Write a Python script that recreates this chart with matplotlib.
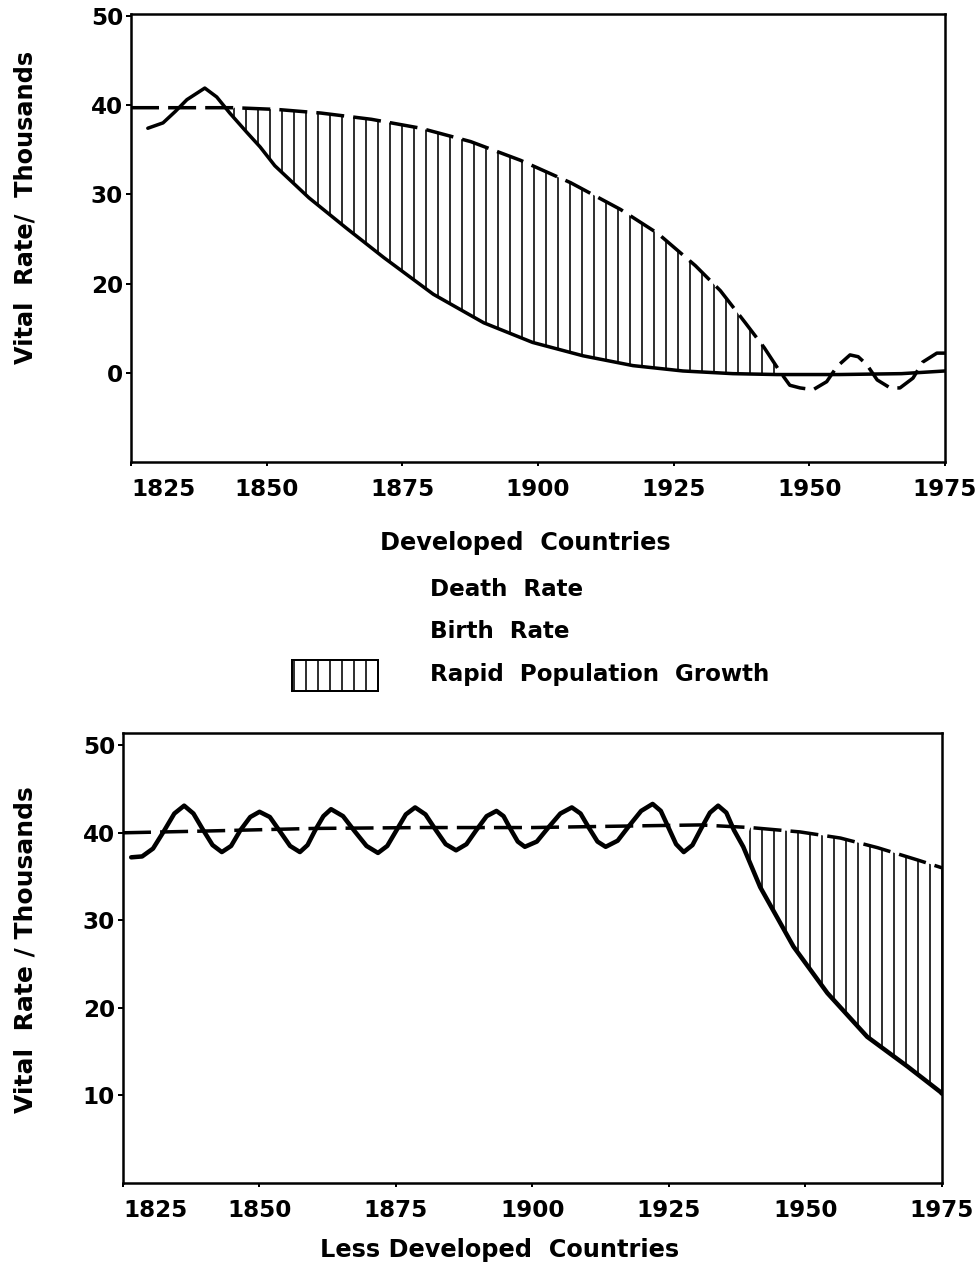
import numpy as np
import matplotlib.pyplot as plt
from matplotlib.patches import Rectangle

plt.rcParams["font.family"] = ["DejaVu Sans"]
plt.rcParams["font.weight"] = "bold"
plt.rcParams["hatch.linewidth"] = 1.6

# x axis (years)
years = [1825, 1850, 1875, 1900, 1925, 1950, 1975]
year_labels = ["1825", "1850", "1875", "1900", "1925", "1950", "1975"]

# Developed countries - death rate (solid)
dev_death_x = [1828.1, 1830.9, 1833.2, 1835.3, 1838.6, 1840.8, 1843.2, 1846.4,
               1848.8, 1851.5, 1857.8, 1864.7, 1871.6, 1880.7, 1890.0, 1899.0,
               1908.3, 1917.5, 1926.7, 1935.9, 1944.0, 1955.5, 1967.0, 1975.0]
dev_death_y = [37.4, 38.0, 39.3, 40.6, 41.9, 40.9, 39.1, 36.9,
               35.3, 33.2, 29.6, 26.2, 22.9, 18.8, 15.6, 13.4,
               11.9, 10.8, 10.2, 9.9, 9.8, 9.8, 9.9, 10.2]

# Developed countries - birth rate (dashed)
dev_birth_x = [1825.0, 1835.0, 1844.0, 1852.0, 1860.0, 1869.3, 1878.4, 1887.6,
               1896.8, 1906.0, 1915.2, 1922.1, 1929.0, 1933.6, 1938.2, 1941.7,
               1944.5, 1946.4, 1948.3, 1950.7, 1953.2, 1955.1, 1957.5, 1959.0,
               1960.6, 1962.5, 1964.9, 1966.7, 1969.1, 1970.9, 1973.5, 1975.0]
dev_birth_y = [39.7, 39.7, 39.7, 39.5, 39.1, 38.4, 37.4, 35.9,
               33.8, 31.3, 28.3, 25.6, 22.0, 19.2, 15.6, 12.8,
               10.2, 8.6, 8.3, 8.1, 9.0, 10.7, 12.0, 11.8,
               10.9, 9.2, 8.3, 8.3, 9.4, 11.2, 12.2, 12.2]
dev_growth_span = (1841, 1945)
dev_yticks = [10, 20, 30, 40, 50]
dev_ylabels = ["0", "20", "30", "40", "50"]

# Less developed countries - death rate (solid)
ldc_death_x = [1826.5, 1828.5, 1830.5, 1832.5, 1834.4, 1836.2, 1837.9, 1839.6,
               1841.4, 1843.1, 1844.8, 1846.5, 1848.3, 1850.0, 1851.9, 1853.7,
               1855.6, 1857.4, 1858.8, 1860.2, 1861.7, 1863.1, 1865.3, 1867.4,
               1869.6, 1871.7, 1873.4, 1875.1, 1876.8, 1878.5, 1880.4, 1882.2,
               1884.1, 1886.0, 1887.9, 1889.7, 1891.6, 1893.4, 1894.7, 1896.0,
               1897.3, 1898.6, 1900.8, 1902.9, 1905.1, 1907.2, 1908.8, 1910.3,
               1911.9, 1913.4, 1915.6, 1917.7, 1919.9, 1922.0, 1923.5, 1924.9,
               1926.3, 1927.7, 1929.3, 1930.9, 1932.5, 1934.0, 1935.5, 1936.9,
               1938.6, 1941.7, 1947.8, 1954.0, 1961.3, 1968.7, 1974.7, 1975.0]
ldc_death_y = [37.2, 37.3, 38.2, 40.2, 42.2, 43.1, 42.2, 40.4,
               38.6, 37.8, 38.5, 40.3, 41.8, 42.4, 41.8, 40.2,
               38.5, 37.8, 38.6, 40.3, 41.9, 42.7, 41.9, 40.2,
               38.5, 37.7, 38.5, 40.3, 42.1, 42.9, 42.1, 40.4,
               38.7, 38.0, 38.7, 40.3, 41.9, 42.5, 41.9, 40.4,
               39.0, 38.4, 39.0, 40.6, 42.2, 42.9, 42.2, 40.6,
               39.0, 38.4, 39.1, 40.8, 42.5, 43.3, 42.5, 40.6,
               38.7, 37.8, 38.6, 40.5, 42.3, 43.1, 42.3, 40.3,
               38.4, 33.8, 27.0, 21.7, 16.7, 13.3, 10.4, 10.2]

# Less developed countries - birth rate (dashed)
ldc_birth_x = [1825.0, 1840.0, 1860.0, 1880.0, 1900.0, 1920.0, 1930.7, 1939.9,
               1949.0, 1956.4, 1963.2, 1970.5, 1975.0]
ldc_birth_y = [40.0, 40.2, 40.5, 40.6, 40.6, 40.8, 40.9, 40.6,
               40.1, 39.4, 38.3, 36.9, 36.0]
ldc_growth_span = (1938.5, 1975.5)
ldc_yticks = [10, 20, 30, 40, 50]
ldc_ylabels = ["10", "20", "30", "40", "50"]

W, H = 979, 1268
fig = plt.figure(figsize=(W / 72, H / 72), dpi=72)


def px_box(left, top, right, bottom):
    return [left / W, 1 - bottom / H, (right - left) / W, (bottom - top) / H]


def growth_polygon(bx, by, dx, dy, span):
    bx, by, dx, dy = map(np.asarray, (bx, by, dx, dy))
    mb = (bx >= span[0]) & (bx <= span[1])
    md = (dx >= span[0]) & (dx <= span[1])
    xs = np.concatenate([bx[mb], dx[md][::-1]])
    ys = np.concatenate([by[mb], dy[md][::-1]])
    return xs, ys


def draw_panel(ax, dx, dy, bx, by, span, yticks, ylabels, ymax, death_lw):
    px, py = growth_polygon(bx, by, dx, dy, span)
    ax.fill(px, py, facecolor="none", edgecolor="black", hatch="|", linewidth=0)
    ax.plot(dx, dy, color="black", lw=death_lw, solid_capstyle="round",
            solid_joinstyle="round")
    ax.plot(bx, by, color="black", lw=3.5, linestyle=(0, (8, 2.6)))

    ax.set_xlim(1825, 1975)
    ax.set_ylim(0, ymax)
    ax.set_xticks(years)
    ax.set_xticklabels(year_labels)
    ax.set_yticks(yticks)
    ax.set_yticklabels(ylabels)
    ax.tick_params(axis="x", length=4, width=2, pad=12, labelsize=23)
    ax.tick_params(axis="y", length=5, width=2, pad=3, labelsize=23)
    ax.get_xticklabels()[0].set_ha("left")
    for s in ax.spines.values():
        s.set_linewidth(2.5)


# Top panel: developed countries
ax1 = fig.add_axes(px_box(131, 14, 945, 462))
draw_panel(ax1, dev_death_x, dev_death_y, dev_birth_x, dev_birth_y,
           dev_growth_span, dev_yticks, dev_ylabels, 50.2, 3.5)

# Bottom panel: less developed countries
ax2 = fig.add_axes(px_box(123, 733, 942, 1183))
draw_panel(ax2, ldc_death_x, ldc_death_y, ldc_birth_x, ldc_birth_y,
           ldc_growth_span, ldc_yticks, ldc_ylabels, 51.4, 4.5)

# Axis titles
fig.text(26 / W, 1 - 207 / H, "Vital  Rate/  Thousands", rotation=90,
         ha="center", va="center", fontsize=24)
fig.text(26 / W, 1 - 950 / H, "Vital  Rate / Thousands", rotation=90,
         ha="center", va="center", fontsize=25)
fig.text(525 / W, 1 - 543 / H, "Developed  Countries", ha="center",
         va="center", fontsize=24)
fig.text(500 / W, 1 - 1250 / H, "Less Developed  Countries", ha="center",
         va="center", fontsize=24)

# Legend (text only, plus hatched swatch)
fig.text(430 / W, 1 - 590 / H, "Death  Rate", ha="left", va="center", fontsize=23)
fig.text(430 / W, 1 - 632 / H, "Birth  Rate", ha="left", va="center", fontsize=23)
fig.text(430 / W, 1 - 675 / H, "Rapid  Population  Growth", ha="left",
         va="center", fontsize=23)
swatch = Rectangle((292 / W, 1 - 691 / H), 86 / W, 31 / H, transform=fig.transFigure,
                   facecolor="white", edgecolor="black", hatch="|", linewidth=2)
fig.patches.append(swatch)

fig.savefig("out.png", dpi=72)
